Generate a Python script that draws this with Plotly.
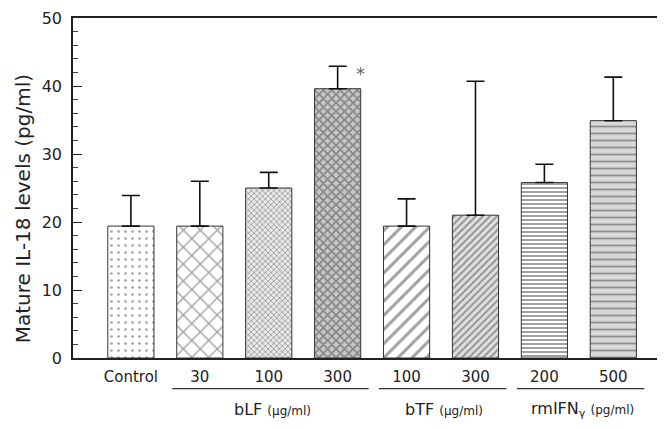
import plotly.graph_objects as go

categories = ["Control", "30", "100", "300", "100", "300", "200", "500"]
values = [19.4, 19.4, 25.0, 39.6, 19.4, 21.0, 25.8, 34.9]
err_top = [23.9, 26.0, 27.3, 42.9, 23.4, 40.7, 28.5, 41.3]
groups = ["bLF", "bTF", "rmIFN<sub>γ</sub>"]
group_units = ["(μg/ml)", "(μg/ml)", "(pg/ml)"]
group_members = [[1, 2, 3], [4, 5], [6, 7]]

x = list(range(len(categories)))
err_plus = [e - v for e, v in zip(err_top, values)]

shapes_p = [".", "x", "x", "x", "/", "/", "-", "-"]
sizes_p = [7, 12, 4, 6, 10, 5, 4, 7]
solid_p = [0.12, 0.22, 0.35, 0.5, 0.3, 0.4, 0.5, 0.25]
fg_p = ["#555", "#333", "#777", "#222", "#111", "#333", "#111", "#777"]
bg_p = ["white", "white", "#e8e8e8", "#c8c8c8", "white", "#e0e0e0", "white", "#d8d8d8"]

font = "DejaVu Sans, Liberation Sans, Arial, sans-serif"

fig = go.Figure()
fig.add_trace(go.Bar(
    x=x, y=values, width=0.67,
    marker=dict(
        color=bg_p,
        line=dict(color="#333", width=1),
        pattern=dict(shape=shapes_p, size=sizes_p, solidity=solid_p, fgcolor=fg_p, bgcolor=bg_p),
    ),
    error_y=dict(type="data", symmetric=False, array=err_plus, arrayminus=[0] * len(values),
                 color="#111", thickness=1.6, width=9),
    showlegend=False,
))

annotations = []
shapes = []
for name, unit, members in zip(groups, group_units, group_members):
    lo, hi = min(members), max(members)
    shapes.append(dict(type="line", xref="x", yref="paper",
                       x0=lo - 0.4, x1=hi + 0.45, y0=-0.09, y1=-0.09,
                       line=dict(color="#333", width=1.2)))
    annotations.append(dict(xref="x", yref="paper", x=(lo + hi) / 2 + 0.05, y=-0.152,
                            text=f"{name} <span style='font-size:12px'>{unit}</span>",
                            showarrow=False, font=dict(size=16, color="#222", family=font),
                            xanchor="center", yanchor="middle"))

annotations.append(dict(xref="paper", yref="paper", x=-0.083, y=0.44, textangle=-90,
                        text="Mature IL-18 levels (pg/ml)", showarrow=False,
                        font=dict(size=20, color="#222", family=font),
                        xanchor="center", yanchor="middle"))
annotations.append(dict(xref="x", yref="y", x=3.33, y=41.8, text="*", showarrow=False,
                        font=dict(size=18, color="#666", family=font)))

fig.update_layout(
    width=657, height=421,
    margin=dict(l=65, r=0, t=10, b=71),
    paper_bgcolor="white", plot_bgcolor="white",
    font=dict(family=font, color="#222", size=15),
    shapes=shapes, annotations=annotations,
    xaxis=dict(range=[-0.84, 7.75], tickvals=x, ticktext=categories,
               showline=True, linecolor="#222", linewidth=1.5, mirror=True,
               ticks="", showgrid=False, zeroline=False,
               tickfont=dict(size=15), ticklabelstandoff=4),
    yaxis=dict(range=[0, 50], tickvals=[0, 10, 20, 30, 40, 50], showline=True,
               linecolor="#222", linewidth=1.5,
               ticks="inside", ticklen=9, tickcolor="#222", tickwidth=1.2,
               minor=dict(dtick=2, ticks="inside", ticklen=5, tickcolor="#444", tickwidth=1),
               showgrid=False, zeroline=False, tickfont=dict(size=16), ticklabelstandoff=6),
)

fig.write_html("out.html")
